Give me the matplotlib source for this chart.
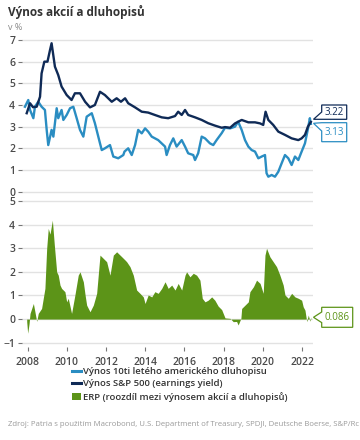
import matplotlib
matplotlib.use("Agg")
import matplotlib.pyplot as plt
from matplotlib.lines import Line2D
from matplotlib.patches import Patch, Polygon

# ---- data ----
bond_t = [2007.86, 2008.03, 2008.12, 2008.29, 2008.37, 2008.54, 2008.71, 2008.88, 2008.97, 2009.05,
          2009.22, 2009.31, 2009.48, 2009.56, 2009.73, 2009.82, 2009.99, 2010.16, 2010.33, 2010.50,
          2010.67, 2010.84, 2011.01, 2011.27, 2011.43, 2011.69, 2011.78, 2011.94, 2012.20, 2012.37,
          2012.62, 2012.88, 2012.94, 2013.13, 2013.31, 2013.48, 2013.64, 2013.82, 2013.99, 2014.15,
          2014.33, 2014.66, 2015.01, 2015.09, 2015.26, 2015.43, 2015.60, 2015.86, 2016.03, 2016.19,
          2016.45, 2016.54, 2016.70, 2016.88, 2017.05, 2017.30, 2017.47, 2017.64, 2017.90, 2018.07,
          2018.33, 2018.58, 2018.74, 2018.92, 2019.09, 2019.26, 2019.43, 2019.60, 2019.77, 2019.94,
          2020.11, 2020.19, 2020.28, 2020.45, 2020.62, 2020.79, 2020.96, 2021.13, 2021.30, 2021.47,
          2021.64, 2021.81, 2021.98, 2022.15, 2022.29, 2022.40, 2022.45]
bond_v = [3.92, 4.23, 3.77, 3.39, 3.92, 4.15, 3.92, 3.77, 2.85, 2.15,
          2.85, 2.54, 3.85, 3.39, 3.77, 3.31, 3.54, 3.85, 3.92, 3.39,
          2.85, 2.54, 3.46, 3.62, 3.16, 2.23, 1.92, 2.00, 2.15, 1.62,
          1.54, 1.69, 1.85, 2.00, 1.69, 2.15, 2.85, 2.69, 2.92, 2.77,
          2.54, 2.38, 2.08, 1.69, 2.15, 2.46, 2.08, 2.38, 2.08, 1.77,
          1.69, 1.46, 1.77, 2.54, 2.46, 2.23, 2.15, 2.38, 2.70, 2.95,
          2.92, 3.00, 3.23, 2.85, 2.38, 2.08, 1.92, 1.85, 1.54, 1.62,
          1.69, 0.85, 0.69, 0.77, 0.69, 0.92, 1.31, 1.69, 1.54, 1.23,
          1.62, 1.46, 1.85, 2.23, 2.85, 3.39, 3.13]

ey_t = [2007.95, 2008.12, 2008.27, 2008.46, 2008.63, 2008.71, 2008.85, 2009.01, 2009.14, 2009.22,
        2009.39, 2009.56, 2009.73, 2009.99, 2010.24, 2010.41, 2010.67, 2010.93, 2011.18, 2011.43,
        2011.69, 2011.94, 2012.29, 2012.54, 2012.76, 2012.97, 2013.13, 2013.48, 2013.82, 2014.15,
        2014.49, 2014.84, 2015.17, 2015.52, 2015.68, 2015.86, 2016.03, 2016.19, 2016.54, 2016.88,
        2017.21, 2017.55, 2017.90, 2018.07, 2018.33, 2018.58, 2018.92, 2019.26, 2019.60, 2019.86,
        2020.02, 2020.14, 2020.28, 2020.53, 2020.79, 2021.13, 2021.47, 2021.81, 2021.98, 2022.15,
        2022.30, 2022.45]
ey_v = [3.62, 4.08, 3.90, 3.92, 4.38, 5.46, 6.00, 6.00, 6.54, 6.85,
        5.77, 5.38, 4.85, 4.46, 4.23, 4.54, 4.54, 4.15, 3.89, 4.00,
        4.61, 4.46, 4.15, 4.31, 4.15, 4.31, 4.08, 3.89, 3.69, 3.65,
        3.54, 3.43, 3.39, 3.49, 3.69, 3.54, 3.77, 3.54, 3.43, 3.31,
        3.16, 3.05, 2.95, 2.98, 2.95, 3.15, 3.31, 3.20, 3.20, 3.15,
        3.08, 3.69, 3.31, 3.08, 2.77, 2.62, 2.46, 2.38, 2.46, 2.62,
        3.00, 3.22]

erp_t = [2007.95, 2008.00, 2008.07, 2008.12, 2008.29, 2008.37, 2008.46, 2008.54, 2008.71, 2008.88,
         2008.97, 2009.05, 2009.14, 2009.26, 2009.36, 2009.48, 2009.56, 2009.65, 2009.73, 2009.90,
         2009.99, 2010.07, 2010.24, 2010.41, 2010.58, 2010.67, 2010.84, 2010.93, 2011.01, 2011.18,
         2011.35, 2011.52, 2011.69, 2011.86, 2012.03, 2012.20, 2012.37, 2012.54, 2012.80, 2012.97,
         2013.05, 2013.22, 2013.39, 2013.56, 2013.73, 2013.90, 2013.99, 2014.15, 2014.33, 2014.49,
         2014.66, 2014.84, 2015.01, 2015.17, 2015.35, 2015.52, 2015.68, 2015.86, 2016.03, 2016.11,
         2016.28, 2016.45, 2016.62, 2016.79, 2016.91, 2017.05, 2017.21, 2017.39, 2017.55, 2017.72,
         2017.90, 2018.07, 2018.33, 2018.49, 2018.66, 2018.74, 2018.88, 2018.92, 2019.09, 2019.26,
         2019.34, 2019.52, 2019.68, 2019.86, 2020.02, 2020.11, 2020.19, 2020.36, 2020.53, 2020.70,
         2020.87, 2021.04, 2021.13, 2021.30, 2021.47, 2021.64, 2021.81, 2021.98, 2022.06, 2022.15,
         2022.24, 2022.32, 2022.40, 2022.45]
erp_v = [-0.10, -0.60, -0.20, 0.24, 0.66, 0.31, -0.10, 0.24, 0.45, 1.30,
         3.00, 3.84, 3.60, 4.19, 3.14, 2.00, 1.86, 1.44, 1.30, 1.16,
         0.73, 0.88, 0.24, 1.02, 1.86, 2.00, 1.58, 1.02, 0.59, 0.31,
         0.59, 1.09, 2.71, 2.57, 2.43, 1.86, 2.71, 2.85, 2.64, 2.50,
         2.43, 2.22, 1.86, 1.23, 1.09, 0.94, 0.66, 1.02, 0.94, 1.16,
         1.09, 1.30, 1.58, 1.30, 1.44, 1.23, 1.51, 1.23, 1.86, 2.00,
         1.79, 1.94, 1.86, 1.65, 0.88, 0.73, 0.80, 0.94, 0.80, 0.55,
         0.40, 0.05, 0.03, -0.11, -0.10, -0.25, 0.03, 0.45, 0.59, 0.73,
         1.16, 1.37, 1.65, 1.51, 1.09, 2.71, 3.00, 2.64, 2.43, 2.22,
         1.86, 1.44, 1.02, 0.88, 1.09, 0.94, 0.88, 0.80, 0.52, 0.38,
         -0.11, 0.17, -0.09, 0.086]

year_ticks = [2008, 2010, 2012, 2014, 2016, 2018, 2020, 2022]
top_ticks = [0, 1, 2, 3, 4, 5, 6, 7]
bot_ticks = [-1, 0, 1, 2, 3, 4, 5]

labels = ["Výnos 10ti letého amerického dluhopisu",
          "Výnos S&P 500 (earnings yield)",
          "ERP (roozdíl mezi výnosem akcií a dluhopisů)"]
title = "Výnos akcií a dluhopisů"
unit = "v %"
source = "Zdroj: Patria s použitím Macrobond, U.S. Department of Treasury, SPDJI, Deutsche Boerse, S&P/Rc"

C_BOND = "#2a8dc2"
C_EY = "#0f2a56"
C_ERP = "#5c9418"
C_TXT = "#4a4a4a"
C_GRID = "#e2e2e2"

plt.rcParams['font.family'] = ['Open Sans', 'DejaVu Sans']

fig = plt.figure(figsize=(3.6, 4.4), dpi=100)
W, H = 360.0, 440.0

ax1 = fig.add_axes([22 / W, 1 - 194.9 / H, 291 / W, 161.4 / H])
ax2 = fig.add_axes([22 / W, 1 - 347.4 / H, 291 / W, 148.7 / H])

xlim = (2007.71, 2022.56)
for ax in (ax1, ax2):
    ax.set_xlim(*xlim)
    for s in ax.spines.values():
        s.set_visible(False)
    ax.grid(axis='y', color=C_GRID, lw=1.0)
    ax.set_axisbelow(True)
    ax.tick_params(axis='y', length=3, width=0.8, color="#777777", pad=2,
                   labelsize=7.5, labelcolor=C_TXT)

ax1.set_ylim(-0.15, 7.3)
ax1.set_yticks(top_ticks)
ax1.set_xticks([])
ax1.plot(bond_t, bond_v, color=C_BOND, lw=1.7, solid_joinstyle='round')
ax1.plot(ey_t, ey_v, color=C_EY, lw=1.7, solid_joinstyle='round')

ax2.set_ylim(-1.2, 5.1)
ax2.set_yticks(bot_ticks)
ax2.fill_between(erp_t, erp_v, 0, color=C_ERP, lw=0)
ax2.set_xticks(year_ticks)
ax2.tick_params(axis='x', length=3, width=0.8, color="#777777", pad=4,
                labelsize=7.5, labelcolor=C_TXT)
for ax in (ax1, ax2):
    for t in ax.get_yticklabels() + ax.get_xticklabels():
        t.set_fontweight('semibold')

# titles
fig.text(8 / W, 1 - 12 / H, title, fontsize=8.5, fontweight='bold', color="#333333",
         va='center', ha='left')
fig.text(8 / W, 1 - 27 / H, unit, fontsize=6.5, color="#888888", va='center', ha='left')

# callouts (drawn in figure pixel coords)
def px(x, y):
    return (x / W, 1 - y / H)

def callout(pts, txt, color, tx, ty):
    poly = Polygon([px(*p) for p in pts], closed=True, transform=fig.transFigure,
                   facecolor='white', edgecolor=color, lw=0.9, zorder=5)
    fig.patches.append(poly)
    fig.text(*px(tx, ty), txt, color=color, fontsize=7, ha='center', va='center', zorder=6)

callout([(313.5, 119.3), (321.7, 112), (321.7, 105), (346.7, 105), (346.7, 119.3)],
        f"{ey_v[-1]:.2f}", C_EY, 334.2, 112.3)
callout([(313.5, 123.3), (321.7, 122.7), (346.7, 122.7), (346.7, 141.7), (321.7, 141.7), (321.7, 131)],
        f"{bond_v[-1]:.2f}", C_BOND, 334.2, 132.2)
callout([(313.5, 317.3), (321.7, 312), (321.7, 307.3), (352.7, 307.3), (352.7, 327.3), (321.7, 327.3), (321.7, 322.6)],
        f"{erp_v[-1]:.3f}", C_ERP, 337.2, 317.3)

# legend
handles = [Line2D([0], [0], color=C_BOND, lw=2.2),
           Line2D([0], [0], color=C_EY, lw=2.2),
           Patch(facecolor=C_ERP, edgecolor='none')]
leg = fig.legend(handles, labels, loc='upper left', bbox_to_anchor=(72 / W, 1 - 367 / H),
                 frameon=False, fontsize=6.8, handlelength=0.9, handleheight=0.7,
                 handletextpad=0.25, labelspacing=0.35, borderpad=0, borderaxespad=0)
for t in leg.get_texts():
    t.set_color("#333333")
    t.set_fontweight('semibold')

fig.text(8 / W, 1 - 424 / H, source, fontsize=5.6, color="#9a9a9a", ha='left', va='center')

fig.savefig("out.png", dpi=100)
